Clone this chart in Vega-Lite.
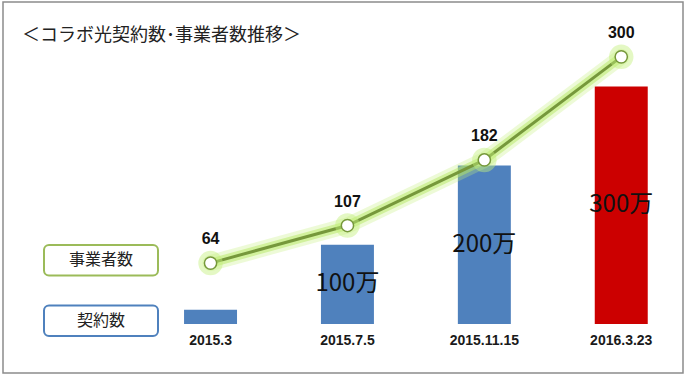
{
  "$schema": "https://vega.github.io/schema/vega-lite/v6.json",
  "width": 680,
  "height": 371,
  "autosize": {"type": "none"},
  "padding": {"left": 3, "top": 2, "right": 3, "bottom": 4},
  "background": "white",
  "config": {
    "view": {"stroke": "#8c8c8c", "strokeWidth": 1.5, "fill": "white"},
    "text": {"font": "Liberation Sans"}
  },
  "title": {
    "text": "＜コラボ光契約数･事業者数推移＞",
    "anchor": "start",
    "frame": "group",
    "orient": "top",
    "offset": -52,
    "dx": 19,
    "font": "Noto Sans CJK JP",
    "fontSize": 18,
    "fontWeight": "normal",
    "color": "#222222",
    "baseline": "middle"
  },
  "datasets": {
    "main": [
      {"date": "2015.3", "contracts": 18, "operators": 64, "label": ""},
      {"date": "2015.7.5", "contracts": 100, "operators": 107, "label": "100万"},
      {"date": "2015.11.15", "contracts": 200, "operators": 182, "label": "200万"},
      {"date": "2016.3.23", "contracts": 300, "operators": 300, "label": "300万"}
    ],
    "legend": [
      {"series": "事業者数"},
      {"series": "契約数"}
    ]
  },
  "data": {"name": "main"},
  "resolve": {"scale": {"x": "independent", "y": "independent", "color": "independent", "stroke": "independent"}},
  "layer": [
    {
      "mark": {"type": "bar"},
      "encoding": {
        "x": {"field": "date", "type": "nominal", "sort": null, "axis": null,
              "scale": {"type": "band", "domain": ["2015.3", "2015.7.5", "2015.11.15", "2016.3.23"], "paddingInner": 0.613, "paddingOuter": 0.79, "align": 0.837}},
        "y": {"field": "contracts", "type": "quantitative", "axis": null,
              "scale": {"domain": [-61.9, 406.6], "nice": false, "zero": false}},
        "color": {"condition": {"test": "datum.date === '2016.3.23'", "value": "#cc0000"}, "value": "#4f81bd"}
      }
    },
    {
      "mark": {"type": "text", "font": "Noto Sans CJK JP", "fontSize": 24, "baseline": "middle", "align": "center", "color": "#111111"},
      "encoding": {
        "x": {"field": "date", "type": "nominal", "sort": null, "axis": null,
              "scale": {"type": "band", "domain": ["2015.3", "2015.7.5", "2015.11.15", "2016.3.23"], "paddingInner": 0.613, "paddingOuter": 0.79, "align": 0.837}},
        "y": {"field": "contracts", "type": "quantitative", "axis": null,
              "scale": {"domain": [-123.8, 813.2], "nice": false, "zero": false}},
        "text": {"field": "label"}
      }
    },
    {
      "mark": {"type": "text", "fontSize": 14, "fontWeight": "bold", "baseline": "middle", "align": "center", "dy": 17, "color": "#1a1a1a"},
      "encoding": {
        "x": {"field": "date", "type": "nominal", "sort": null, "axis": null,
              "scale": {"type": "band", "domain": ["2015.3", "2015.7.5", "2015.11.15", "2016.3.23"], "paddingInner": 0.613, "paddingOuter": 0.79, "align": 0.837}},
        "y": {"datum": 0, "type": "quantitative", "axis": null,
              "scale": {"domain": [-61.9, 406.6], "nice": false, "zero": false}},
        "text": {"field": "date"}
      }
    },
    {
      "mark": {"type": "line", "color": "#c4f07c", "strokeWidth": 16, "opacity": 0.3, "strokeCap": "round", "strokeJoin": "round"},
      "encoding": {
        "x": {"field": "date", "type": "nominal", "sort": null, "axis": null,
              "scale": {"type": "band", "domain": ["2015.3", "2015.7.5", "2015.11.15", "2016.3.23"], "paddingInner": 0.613, "paddingOuter": 0.79, "align": 0.837}},
        "y": {"field": "operators", "type": "quantitative", "axis": null,
              "scale": {"domain": [-61.8, 362.8], "nice": false, "zero": false}}
      }
    },
    {
      "mark": {"type": "line", "color": "#b6e861", "strokeWidth": 9, "opacity": 0.5, "strokeCap": "round", "strokeJoin": "round"},
      "encoding": {
        "x": {"field": "date", "type": "nominal", "sort": null, "axis": null,
              "scale": {"type": "band", "domain": ["2015.3", "2015.7.5", "2015.11.15", "2016.3.23"], "paddingInner": 0.613, "paddingOuter": 0.79, "align": 0.837}},
        "y": {"field": "operators", "type": "quantitative", "axis": null,
              "scale": {"domain": [-61.8, 362.8], "nice": false, "zero": false}}
      }
    },
    {
      "mark": {"type": "line", "color": "#76983b", "strokeWidth": 3},
      "encoding": {
        "x": {"field": "date", "type": "nominal", "sort": null, "axis": null,
              "scale": {"type": "band", "domain": ["2015.3", "2015.7.5", "2015.11.15", "2016.3.23"], "paddingInner": 0.613, "paddingOuter": 0.79, "align": 0.837}},
        "y": {"field": "operators", "type": "quantitative", "axis": null,
              "scale": {"domain": [-61.8, 362.8], "nice": false, "zero": false}}
      }
    },
    {
      "mark": {"type": "circle", "color": "#c4f07c", "size": 600, "opacity": 0.45},
      "encoding": {
        "x": {"field": "date", "type": "nominal", "sort": null, "axis": null,
              "scale": {"type": "band", "domain": ["2015.3", "2015.7.5", "2015.11.15", "2016.3.23"], "paddingInner": 0.613, "paddingOuter": 0.79, "align": 0.837}},
        "y": {"field": "operators", "type": "quantitative", "axis": null,
              "scale": {"domain": [-61.8, 362.8], "nice": false, "zero": false}}
      }
    },
    {
      "mark": {"type": "point", "shape": "circle", "filled": true, "fill": "white", "stroke": "#76983b", "strokeWidth": 1.5, "size": 150, "opacity": 1},
      "encoding": {
        "x": {"field": "date", "type": "nominal", "sort": null, "axis": null,
              "scale": {"type": "band", "domain": ["2015.3", "2015.7.5", "2015.11.15", "2016.3.23"], "paddingInner": 0.613, "paddingOuter": 0.79, "align": 0.837}},
        "y": {"field": "operators", "type": "quantitative", "axis": null,
              "scale": {"domain": [-61.8, 362.8], "nice": false, "zero": false}}
      }
    },
    {
      "mark": {"type": "text", "fontSize": 16, "fontWeight": "bold", "baseline": "middle", "align": "center", "dy": -24, "color": "#111111"},
      "encoding": {
        "x": {"field": "date", "type": "nominal", "sort": null, "axis": null,
              "scale": {"type": "band", "domain": ["2015.3", "2015.7.5", "2015.11.15", "2016.3.23"], "paddingInner": 0.613, "paddingOuter": 0.79, "align": 0.837}},
        "y": {"field": "operators", "type": "quantitative", "axis": null,
              "scale": {"domain": [-61.8, 362.8], "nice": false, "zero": false}},
        "text": {"field": "operators", "type": "quantitative"}
      }
    },
    {
      "data": {"name": "legend"},
      "mark": {"type": "rect", "fill": "white", "strokeWidth": 2, "cornerRadius": 5},
      "encoding": {
        "x": {"datum": "凡例", "type": "nominal", "axis": null,
              "scale": {"type": "band", "domain": ["凡例"], "paddingInner": 0, "paddingOuter": 0, "range": [41, 155]}},
        "y": {"field": "series", "type": "nominal", "axis": null, "sort": null,
              "scale": {"type": "band", "domain": ["事業者数", "契約数"], "paddingInner": 0.496, "paddingOuter": 0, "range": [243, 334]}},
        "stroke": {"field": "series", "type": "nominal", "legend": null,
                   "scale": {"domain": ["事業者数", "契約数"], "range": ["#9bbb59", "#4f81bd"]}}
      }
    },
    {
      "data": {"name": "legend"},
      "mark": {"type": "text", "font": "Noto Sans CJK JP", "fontSize": 16, "baseline": "middle", "align": "center", "color": "#222222"},
      "encoding": {
        "x": {"datum": "凡例", "type": "nominal", "axis": null,
              "scale": {"type": "band", "domain": ["凡例"], "paddingInner": 0, "paddingOuter": 0, "range": [41, 155]}},
        "y": {"field": "series", "type": "nominal", "axis": null, "sort": null,
              "scale": {"type": "band", "domain": ["事業者数", "契約数"], "paddingInner": 0.496, "paddingOuter": 0, "range": [243, 334]}},
        "text": {"field": "series"}
      }
    }
  ]
}
